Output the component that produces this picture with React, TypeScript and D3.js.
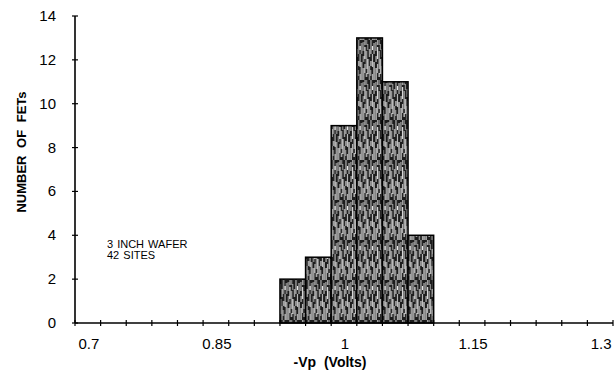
import * as d3 from 'd3';
import React, { useEffect } from 'react';

// histogram bins (centre of each 0.03 V bin) and counts
const binCenters = [0.94, 0.97, 1.0, 1.03, 1.06, 1.09];
const counts = [2, 3, 9, 13, 11, 4];
const binWidth = 0.03;
const xLabels = [0.7, 0.85, 1, 1.15, 1.3];
const yTicks = [0, 2, 4, 6, 8, 10, 12, 14];
const notes = ['3 INCH WAFER', '42 SITES'];

// light streaks of the photocopy-style fill: [x, y, height]
const streaks = [
  [0.5, 2, 9], [0.5, 16, 6], [0.5, 28, 12], [2, 0, 5], [2, 7, 12], [2, 24, 9],
  [3.5, 0, 5], [3.5, 11, 18], [3.5, 33, 4], [5, 4, 6], [5, 19, 15],
  [6.5, 9, 8], [6.5, 26, 14], [8, 0, 14], [8, 21, 5], [8, 30, 6],
  [9.5, 6, 4], [9.5, 14, 13], [9.5, 34, 6], [11, 3, 11], [11, 22, 18],
];

export default function App() {
  const ref = React.useRef<HTMLDivElement>(null);

  useEffect(() => {
    if (!ref.current) return;
    ref.current.innerHTML = '';

    const W = 616;
    const H = 375;
    const font = '"Liberation Sans", Arial, sans-serif';

    const x = d3.scaleLinear().domain([0.685, 1.315]).range([75, 613]);
    const y = d3.scaleLinear().domain([0, 14]).range([323, 16]);

    const svg = d3
      .select(ref.current)
      .append('svg')
      .attr('width', W)
      .attr('height', H)
      .style('position', 'absolute')
      .style('left', 0)
      .style('top', 0)
      .style('background', '#fff');

    // grainy vertical-streak fill
    const defs = svg.append('defs');
    const pat = defs
      .append('pattern')
      .attr('id', 'grain')
      .attr('patternUnits', 'userSpaceOnUse')
      .attr('width', 12.5)
      .attr('height', 40);
    pat.append('rect').attr('width', 12.5).attr('height', 40).attr('fill', '#1c1c1c');
    pat
      .selectAll('rect.s')
      .data(streaks)
      .enter()
      .append('rect')
      .attr('x', d => d[0])
      .attr('y', d => d[1])
      .attr('width', (d, i) => (i % 3 === 0 ? 0.8 : 1.1))
      .attr('height', d => d[2])
      .attr('fill', (d, i) => (i % 2 === 0 ? '#f2f2f2' : '#c4c4c4'));

    // bars
    svg
      .selectAll('rect.bar')
      .data(binCenters.map((c, i) => ({ c, v: counts[i] })))
      .enter()
      .append('rect')
      .attr('class', 'bar')
      .attr('x', d => x(d.c - binWidth / 2))
      .attr('y', d => y(d.v))
      .attr('width', d => x(d.c + binWidth / 2) - x(d.c - binWidth / 2))
      .attr('height', d => y(0) - y(d.v))
      .attr('fill', 'url(#grain)')
      .attr('stroke', '#000')
      .attr('stroke-width', 1.5);

    // axis lines
    svg
      .append('line')
      .attr('x1', x(0.685))
      .attr('x2', x(1.315))
      .attr('y1', y(0))
      .attr('y2', y(0))
      .attr('stroke', '#000')
      .attr('stroke-width', 1.6);
    svg
      .append('line')
      .attr('x1', x(0.685))
      .attr('x2', x(0.685))
      .attr('y1', y(0))
      .attr('y2', y(14))
      .attr('stroke', '#000')
      .attr('stroke-width', 1.6);

    // x ticks at bin edges
    const edges = d3.range(22).map(i => 0.685 + i * binWidth);
    svg
      .selectAll('line.xt')
      .data(edges)
      .enter()
      .append('line')
      .attr('x1', d => x(d))
      .attr('x2', d => x(d))
      .attr('y1', y(0) - 3)
      .attr('y2', y(0) + 3)
      .attr('stroke', '#000')
      .attr('stroke-width', 1.2);

    svg
      .selectAll('text.xl')
      .data(xLabels)
      .enter()
      .append('text')
      .attr('x', d => x(d) + 1)
      .attr('y', 349)
      .attr('text-anchor', 'middle')
      .style('font-family', font)
      .style('font-size', '15px')
      .text(d => String(d));

    // y ticks
    svg
      .selectAll('line.yt')
      .data(yTicks)
      .enter()
      .append('line')
      .attr('x1', x(0.685) - 3)
      .attr('x2', x(0.685) + 3)
      .attr('y1', d => y(d))
      .attr('y2', d => y(d))
      .attr('stroke', '#000')
      .attr('stroke-width', 1.2);

    svg
      .selectAll('text.yl')
      .data(yTicks)
      .enter()
      .append('text')
      .attr('x', 56)
      .attr('y', d => y(d) + 5)
      .attr('text-anchor', 'end')
      .style('font-family', font)
      .style('font-size', '15px')
      .text(d => String(d));

    // axis titles
    svg
      .append('text')
      .attr('transform', 'translate(26,152) rotate(-90)')
      .attr('text-anchor', 'middle')
      .style('font-family', font)
      .style('font-size', '13px')
      .style('font-weight', 'bold')
      .style('word-spacing', '4px')
      .text('NUMBER OF FETs');

    svg
      .append('text')
      .attr('x', 330)
      .attr('y', 367)
      .attr('text-anchor', 'middle')
      .style('font-family', font)
      .style('font-size', '14px')
      .style('font-weight', 'bold')
      .style('word-spacing', '4px')
      .text('-Vp (Volts)');

    // annotation
    svg
      .selectAll('text.note')
      .data(notes)
      .enter()
      .append('text')
      .attr('x', 107)
      .attr('y', (d, i) => 248 + i * 11)
      .style('font-family', font)
      .style('font-size', '11px')
      .style('word-spacing', '1px')
      .text(d => d);
  }, []);

  return <div ref={ref}></div>;
}
